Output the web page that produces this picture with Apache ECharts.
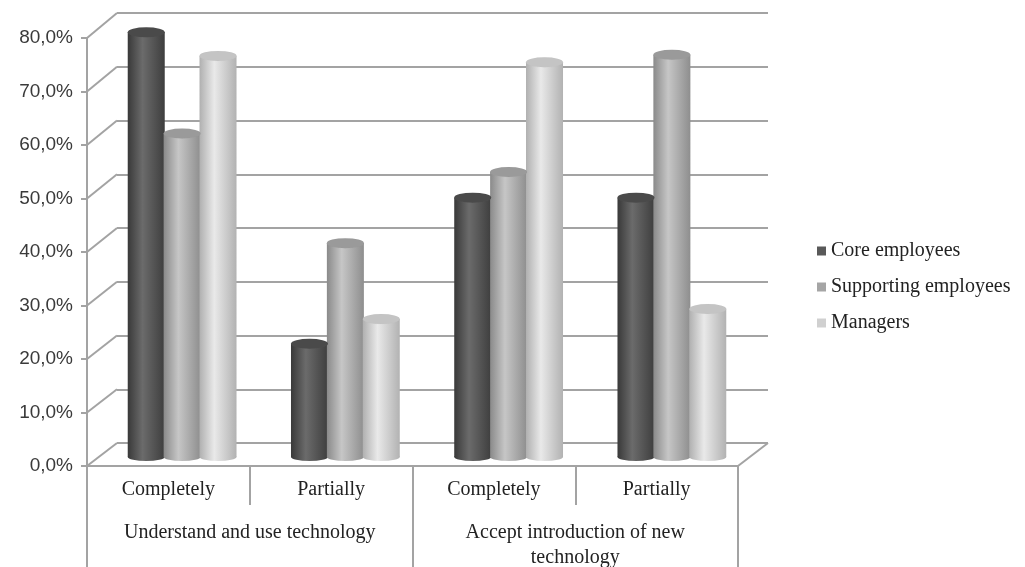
<!DOCTYPE html>
<html>
<head>
<meta charset="utf-8">
<script src="https://cdn.jsdelivr.net/npm/echarts@6/dist/echarts.min.js"></script>
<style>
  html, body { margin: 0; padding: 0; background: #fff; }
  #container { width: 1025px; height: 567px; }
</style>
</head>
<body>
<div id="container"></div>
<script>
// data (percent)
let categories = ['Completely', 'Partially', 'Completely', 'Partially'];
let groups = ['Understand and use technology', 'Accept introduction of new\ntechnology'];
let seriesNames = ['Core employees', 'Supporting employees', 'Managers'];
let coreValues = [79.4, 21.2, 48.5, 48.5];
let supportingValues = [60.5, 40.0, 53.3, 75.2];
let managersValues = [75.0, 25.8, 73.8, 27.7];
let yTicks = [0, 10, 20, 30, 40, 50, 60, 70, 80];

// layout of the fake 3d box
let front = {left: 87, right: 287, top: 38, bottom: 101};
let back = {left: 117, right: 257, top: 13, bottom: 124};
let bars = {left: 100.5, right: 271.5, top: 29, bottom: 110};

let gridColor = '#a3a3a3';
let barWidth = 37;

function cyl(c0, c1, c2) {
  return new echarts.graphic.LinearGradient(0, 0, 1, 0, [
    {offset: 0, color: c0},
    {offset: 0.4, color: c1},
    {offset: 1, color: c2},
  ]);
}
let bodyColors = [
  cyl('#393939', '#6b6b6b', '#3e3e3e'),
  cyl('#8a8a8a', '#c6c6c6', '#8e8e8e'),
  cyl('#b0b0b0', '#e9e9e9', '#b2b2b2'),
];
let topColors = ['#4a4a4a', '#9a9a9a', '#c4c4c4'];
let legendColors = ['#595959', '#a5a5a5', '#d0d0d0'];
let allValues = [coreValues, supportingValues, managersValues];

var graph = echarts.init(document.getElementById('container'));

let series = [];
allValues.forEach((vals, i) => {
  series.push({
    name: seriesNames[i],
    type: 'bar',
    xAxisIndex: 3,
    yAxisIndex: 2,
    barWidth: barWidth,
    barGap: '-3%',
    data: vals,
    itemStyle: {color: bodyColors[i]},
    z: 3,
  });
});
// elliptic tops (axis 3) and bottoms (axis 4) of the cylinders
allValues.forEach((vals, i) => {
  series.push({
    type: 'pictorialBar',
    xAxisIndex: 3,
    yAxisIndex: 2,
    symbol: 'circle',
    symbolSize: [barWidth, 10],
    symbolPosition: 'end',
    symbolOffset: [0, '-50%'],
    barWidth: barWidth,
    barGap: '-3%',
    data: vals,
    itemStyle: {color: topColors[i], borderColor: '#777', borderWidth: 0.5},
    z: 4,
  });
  series.push({
    type: 'pictorialBar',
    xAxisIndex: 4,
    yAxisIndex: 2,
    symbol: 'circle',
    symbolSize: [barWidth, 8],
    symbolPosition: 'start',
    symbolOffset: [0, '50%'],
    barWidth: barWidth,
    barGap: '-3%',
    data: vals,
    itemStyle: {color: bodyColors[i]},
    z: 2,
  });
});

let option = {
  animation: false,
  backgroundColor: '#fff',
  grid: [
    {left: back.left, right: back.right, top: back.top, bottom: back.bottom, outerBoundsMode: 'none'},
    {left: front.left, right: front.right, top: front.top, bottom: front.bottom, outerBoundsMode: 'none'},
    {left: bars.left, right: bars.right, top: bars.top, bottom: bars.bottom, outerBoundsMode: 'none'},
  ],
  legend: {
    orient: 'vertical',
    left: 812,
    top: 236,
    icon: 'rect',
    itemWidth: 9,
    itemHeight: 9,
    itemGap: 16,
    textStyle: {fontFamily: 'Liberation Serif', fontSize: 20, color: '#222'},
    data: seriesNames.map((n, i) => ({name: n, itemStyle: {color: legendColors[i]}})),
  },
  xAxis: [
    // back wall
    {gridIndex: 0, type: 'category', data: categories, show: false},
    // front: categories
    {
      gridIndex: 1,
      type: 'category',
      data: categories,
      axisLine: {lineStyle: {color: gridColor, width: 2}},
      axisTick: {show: true, interval: 0, length: 39, lineStyle: {color: gridColor, width: 2}},
      axisLabel: {
        interval: 0,
        margin: 14,
        fontFamily: 'Liberation Serif',
        fontSize: 20,
        color: '#222',
      },
    },
    // front: groups
    {
      gridIndex: 1,
      type: 'category',
      position: 'bottom',
      data: groups,
      axisLine: {show: false},
      axisTick: {show: true, interval: 0, length: 101, lineStyle: {color: gridColor, width: 2}},
      axisLabel: {
        interval: 0,
        hideOverlap: false,
        margin: 54,
        fontFamily: 'Liberation Serif',
        fontSize: 20,
        lineHeight: 25,
        color: '#222',
      },
    },
    // bars
    {gridIndex: 2, type: 'category', data: categories, show: false},
    {gridIndex: 2, type: 'category', data: categories, show: false},
  ],
  yAxis: [
    {
      gridIndex: 0,
      type: 'value',
      min: 0,
      max: 80,
      interval: 10,
      axisLine: {show: false},
      axisTick: {show: false},
      axisLabel: {show: false},
      splitLine: {lineStyle: {color: gridColor, width: 2}},
    },
    {
      gridIndex: 1,
      type: 'value',
      min: 0,
      max: 80,
      interval: 10,
      axisLine: {show: true, lineStyle: {color: gridColor, width: 2}},
      axisTick: {show: true, length: 6, lineStyle: {color: gridColor, width: 2}},
      splitLine: {show: false},
      axisLabel: {
        margin: 14,
        fontFamily: 'Liberation Sans',
        fontSize: 19,
        color: '#3a3a3a',
        formatter: (v) => v.toFixed(1).replace('.', ',') + '%',
      },
    },
    {gridIndex: 2, type: 'value', min: 0, max: 80, show: false},
  ],
  series: series,
};

graph.setOption(option);

// slanted lines joining the front axis to the back wall
let lines = [];
let frontRight = 1025 - front.right;
let backRight = 1025 - back.right;
yTicks.forEach((v) => {
  let yf = graph.convertToPixel({yAxisIndex: 1}, v);
  let yb = graph.convertToPixel({yAxisIndex: 0}, v);
  lines.push({
    type: 'line',
    shape: {x1: front.left, y1: yf, x2: back.left, y2: yb},
    style: {stroke: gridColor, lineWidth: 2},
    z: 1,
  });
});
let yf0 = graph.convertToPixel({yAxisIndex: 1}, 0);
let yb0 = graph.convertToPixel({yAxisIndex: 0}, 0);
lines.push({
  type: 'line',
  shape: {x1: frontRight, y1: yf0, x2: backRight, y2: yb0},
  style: {stroke: gridColor, lineWidth: 2},
  z: 1,
});
graph.setOption({graphic: lines});
</script>
</body>
</html>
